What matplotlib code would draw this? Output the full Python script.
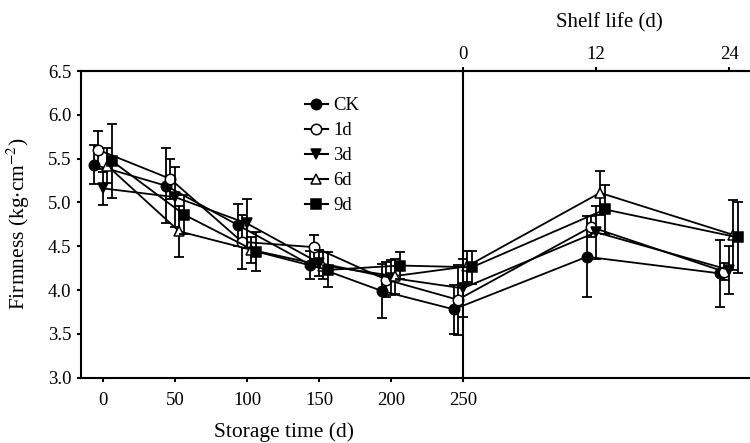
import matplotlib
matplotlib.use("Agg")
import matplotlib.pyplot as plt
from matplotlib.lines import Line2D

# storage days, then shelf-life days (shelf 0 is the same point as storage 250)
storage_days = [0, 50, 100, 150, 200, 250]
shelf_days = [12, 24]
shelf_ticks = [0, 12, 24]

labels = ["CK", "1d", "3d", "6d", "9d"]
ck = [5.43, 5.19, 4.74, 4.29, 3.99, 3.78, 4.38, 4.19]
ck_sd = [0.22, 0.43, 0.24, 0.16, 0.31, 0.28, 0.46, 0.38]
d1 = [5.60, 5.27, 4.55, 4.49, 4.12, 3.89, 4.72, 4.21]
d1_sd = [0.22, 0.23, 0.31, 0.14, 0.20, 0.40, 0.12, 0.10]
d3 = [5.16, 5.06, 4.76, 4.31, 4.14, 4.02, 4.66, 4.23]
d3_sd = [0.19, 0.34, 0.28, 0.15, 0.20, 0.33, 0.30, 0.27]
d6 = [5.42, 4.67, 4.46, 4.28, 4.16, 4.27, 5.11, 4.63]
d6_sd = [0.20, 0.29, 0.15, 0.15, 0.20, 0.18, 0.25, 0.40]
d9 = [5.47, 4.86, 4.44, 4.23, 4.28, 4.26, 4.92, 4.60]
d9_sd = [0.42, 0.22, 0.22, 0.20, 0.15, 0.19, 0.28, 0.40]

plt.rcParams['font.family'] = ['Liberation Serif', 'DejaVu Serif']
plt.rcParams['mathtext.fontset'] = 'stix'

# one shelf-life day in storage-axis units
SHELF_SCALE = 7.72
START = storage_days[-1]


def to_shelf(x):
    return (x - START) / SHELF_SCALE


def to_storage(s):
    return START + s * SHELF_SCALE


fig = plt.figure(figsize=(7.5, 4.43), dpi=100)
ax = fig.add_axes([81 / 750, 65.3 / 443, 674 / 750, 306.7 / 443])

xpos = list(storage_days) + [to_storage(s) for s in shelf_days]
series = [(ck, ck_sd), (d1, d1_sd), (d3, d3_sd), (d6, d6_sd), (d9, d9_sd)]
markers = ['o', 'o', 'v', '^', 's']
faces = ['black', 'white', 'black', 'white', 'black']
offsets = [-6.3, -3.5, 0, 2.8, 6.3]

handles = []
for lab, (vals, sd), m, fc, off in zip(labels, series, markers, faces, offsets):
    xs = [x + off for x in xpos]
    ms = 7 if m == 's' else 7.5
    ax.errorbar(xs, vals, yerr=sd, fmt='none', ecolor='black',
                elinewidth=1.3, capsize=3.5, capthick=1.3)
    ax.plot(xs, vals, color='black', lw=1.3, marker=m, markersize=ms,
            markerfacecolor=fc, markeredgecolor='black', markeredgewidth=1.1)
    handles.append(Line2D([], [], color='black', lw=1.5, marker=m,
                          markersize=ms, markerfacecolor=fc,
                          markeredgecolor='black', markeredgewidth=1.1,
                          label=lab))

ax.axvline(START, color='black', lw=1.5)

ax.set_xlim(-15.5, 453.2)
ax.set_ylim(3.0, 6.5)
ax.set_xticks(storage_days)
ax.set_yticks([3.0, 3.5, 4.0, 4.5, 5.0, 5.5, 6.0, 6.5])
ax.set_yticklabels([f"{v:.1f}" for v in ax.get_yticks()])

for s in ax.spines.values():
    s.set_linewidth(1.5)
ax.tick_params(direction='out', length=3, width=1.5, labelsize=13.5, pad=4)
ax.tick_params(axis='x', pad=7)

top = ax.secondary_xaxis('top', functions=(to_shelf, to_storage))
top.set_xticks(shelf_ticks)
top.tick_params(direction='out', length=3, width=1.5, labelsize=13.5, pad=3)
top.spines['top'].set_linewidth(1.5)

fig.text(609 / 750, 1 - 23 / 443, "Shelf life (d)", fontsize=15,
         ha='center', va='center')
fig.text(284 / 750, 1 - 432 / 443, "Storage time (d)", fontsize=15.5,
         ha='center', va='center')
fig.text(18 / 750, 1 - 224 / 443, "Firmness (kg$\\cdot$cm$^{-2}$)",
         fontsize=15.5, ha='center', va='center', rotation=90)

ax.legend(handles=handles, loc='upper left',
          bbox_to_anchor=(292 / 750, 1 - 84 / 443),
          bbox_transform=fig.transFigure, frameon=False, fontsize=13.5,
          handlelength=1.2, handletextpad=0.3, labelspacing=0.42,
          borderpad=0.2)

fig.savefig("out.png", dpi=100)
